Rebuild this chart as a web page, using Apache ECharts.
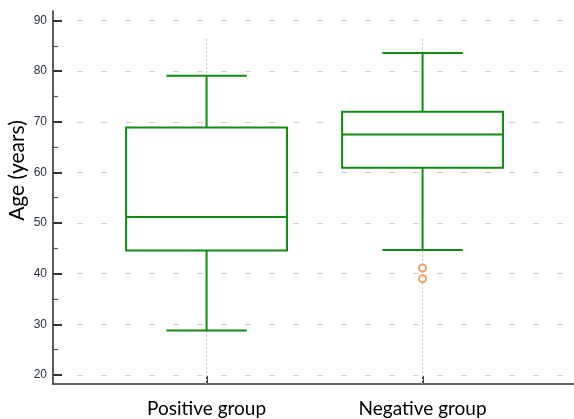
<!DOCTYPE html>
<html>
<head>
<meta charset="utf-8">
<script src="https://cdn.jsdelivr.net/npm/echarts@6/dist/echarts.min.js"></script>
<style>
html,body{margin:0;padding:0;background:#fff;}
#chart{width:574px;height:419px;}
</style>
</head>
<body>
<div id="chart"></div>
<script>
// ---- data ----
var categories = ['Positive group', 'Negative group'];
var whiskerLow  = [28.8, 44.7];
var quartile1   = [44.6, 60.9];
var medians     = [51.2, 67.5];
var quartile3   = [68.85, 72.0];
var whiskerHigh = [79.1, 83.6];
var outlierCategory = ['Negative group', 'Negative group'];
var outlierValues   = [41.1, 39.0];
var yTickLabels = [20, 30, 40, 50, 60, 70, 80, 90];
var yMinorTicks = [25, 35, 45, 55, 65, 75, 85];

// ---- build ----
var boxData = categories.map(function (c, i) {
  return [i + 1, whiskerLow[i], quartile1[i], medians[i], quartile3[i], whiskerHigh[i]];
});
var outlierData = outlierValues.map(function (v, i) {
  return [categories.indexOf(outlierCategory[i]) + 1, v];
});
var catPos = categories.map(function (c, i) { return [i + 1]; });

var GREEN = '#138a13';
var Y_MIN = 18.22, Y_MAX = 91.87;

var chart = echarts.init(document.getElementById('chart'), null, {renderer: 'canvas'});
chart.setOption({
  animation: false,
  backgroundColor: '#fff',
  grid: {left: 53, top: 11, right: 0, bottom: 35, containLabel: false, outerBoundsMode: 'none'},
  xAxis: {
    type: 'value',
    min: 0.289, max: 2.701,
    axisLine: {show: true, lineStyle: {color: '#333', width: 1.6}},
    axisTick: {show: true, inside: true, length: 8, customValues: [1, 2], lineStyle: {color: '#333', width: 1.8}},
    axisLabel: {
      customValues: [1, 2],
      formatter: function (v) { return categories[Math.round(v) - 1] || ''; },
      fontFamily: 'Lato', fontSize: 19, color: '#000', margin: 15
    },
    splitLine: {show: false}
  },
  yAxis: [{
    type: 'value',
    min: Y_MIN, max: Y_MAX,
    name: 'Age (years)',
    nameLocation: 'middle',
    nameRotate: 90,
    nameGap: 25,
    nameMoveOverlap: false,
    nameTextStyle: {fontFamily: 'Lato', fontSize: 21, color: '#000', padding: [0, 0, 0, 54]},
    axisLine: {show: true, lineStyle: {color: '#333', width: 1.6}},
    axisTick: {show: true, inside: true, length: 9, customValues: yTickLabels, lineStyle: {color: '#333', width: 2}},
    axisLabel: {customValues: yTickLabels, fontFamily: 'Liberation Sans', fontSize: 12, color: '#2a3340', margin: 6},
    splitLine: {show: true, lineStyle: {color: '#d0d0d0', width: 1, type: [6, 18]}}
  }, {
    type: 'value',
    min: Y_MIN, max: Y_MAX,
    position: 'left',
    axisLine: {show: false},
    axisTick: {show: true, inside: true, length: 5, customValues: yMinorTicks, lineStyle: {color: '#555', width: 1.2}},
    axisLabel: {show: false},
    splitLine: {show: false}
  }],
  series: [{
    type: 'custom',
    name: 'vgrid',
    silent: true,
    z: 1,
    data: catPos,
    renderItem: function (params, api) {
      var top = api.coord([api.value(0), 86.35]);
      var bot = api.coord([api.value(0), Y_MIN]);
      return {
        type: 'line',
        shape: {x1: top[0], y1: top[1], x2: bot[0], y2: bot[1]},
        style: {stroke: '#c8c8c8', lineWidth: 1, lineDash: [2, 2]}
      };
    }
  }, {
    type: 'custom',
    name: 'box',
    z: 3,
    data: boxData,
    renderItem: function (params, api) {
      var x = api.value(0);
      var unit = api.size([1, 0])[0];
      var halfBox = unit * 0.745 / 2;
      var halfCap = halfBox / 2;
      var pMin = api.coord([x, api.value(1)]);
      var pQ1 = api.coord([x, api.value(2)]);
      var pMed = api.coord([x, api.value(3)]);
      var pQ3 = api.coord([x, api.value(4)]);
      var pMax = api.coord([x, api.value(5)]);
      var cx = pMed[0];
      var st = {stroke: GREEN, lineWidth: 2, fill: null};
      return {
        type: 'group',
        children: [
          {type: 'rect', shape: {x: cx - halfBox, y: pQ3[1], width: halfBox * 2, height: pQ1[1] - pQ3[1]}, style: {stroke: GREEN, lineWidth: 2, fill: '#fff'}},
          {type: 'line', shape: {x1: cx - halfBox, y1: pMed[1], x2: cx + halfBox, y2: pMed[1]}, style: st},
          {type: 'line', shape: {x1: cx, y1: pQ3[1], x2: cx, y2: pMax[1]}, style: st},
          {type: 'line', shape: {x1: cx, y1: pQ1[1], x2: cx, y2: pMin[1]}, style: st},
          {type: 'line', shape: {x1: cx - halfCap, y1: pMax[1], x2: cx + halfCap, y2: pMax[1]}, style: st},
          {type: 'line', shape: {x1: cx - halfCap, y1: pMin[1], x2: cx + halfCap, y2: pMin[1]}, style: st}
        ]
      };
    }
  }, {
    type: 'scatter',
    name: 'outliers',
    z: 4,
    data: outlierData,
    symbol: 'emptyCircle',
    symbolSize: 7,
    itemStyle: {color: '#f08a3c', borderColor: '#f08a3c', borderWidth: 1.4}
  }]
});
</script>
</body>
</html>
